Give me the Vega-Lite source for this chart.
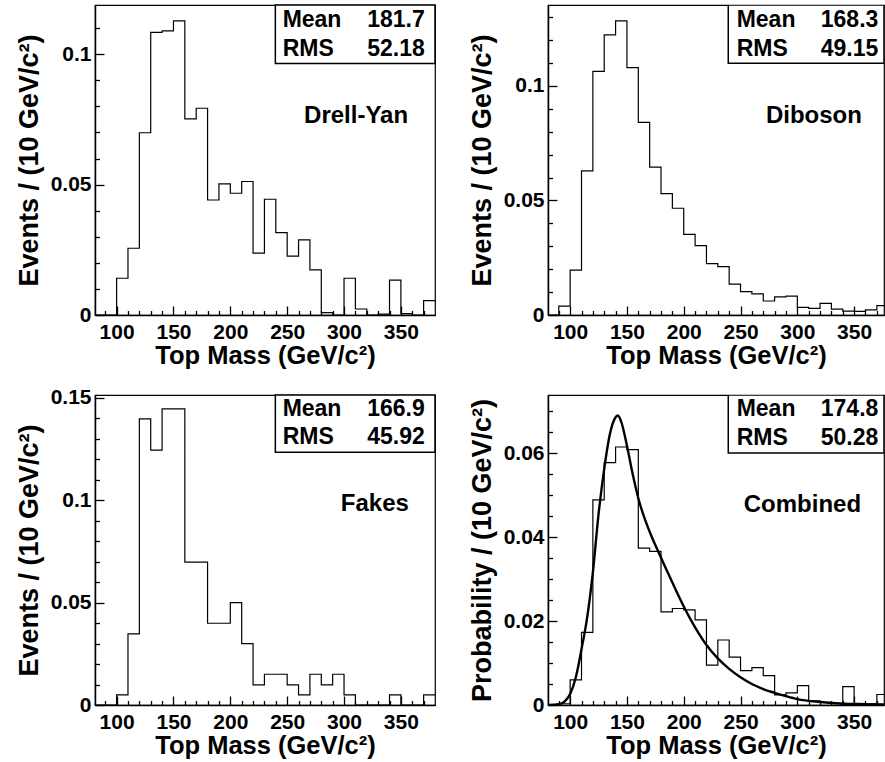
{
  "$schema": "https://vega.github.io/schema/vega-lite/v6.json",
  "background": "white",
  "padding": {"left": 14, "top": 3, "right": 0, "bottom": 0},
  "bounds": "flush",
  "columns": 2,
  "spacing": {"row": 80, "column": 113},
  "config": {
    "view": {"stroke": "black", "strokeWidth": 1.2},
    "font": "Liberation Sans",
    "axis": {
      "labelFont": "Liberation Sans", "labelFontWeight": "bold", "labelFontSize": 21, "labelColor": "black",
      "titleFont": "Liberation Sans", "titleFontWeight": "bold", "titleColor": "black",
      "grid": false, "domainColor": "black", "domainWidth": 1.5, "tickColor": "black", "tickWidth": 1.3,
      "labelOverlap": false, "labelFlush": false
    },
    "axisX": {"titleFontSize": 25.5},
    "axisY": {"titleFontSize": 27},
    "text": {"font": "Liberation Sans", "fontWeight": "bold", "fontSize": 23, "color": "black"}
  },
  "datasets": {
    "drellyan": [
      {"m": 80, "v": 0}, {"m": 90, "v": 0}, {"m": 100, "v": 0.0141}, {"m": 110, "v": 0.0256},
      {"m": 120, "v": 0.0699}, {"m": 130, "v": 0.1084}, {"m": 140, "v": 0.1090}, {"m": 150, "v": 0.1128},
      {"m": 160, "v": 0.0752}, {"m": 170, "v": 0.0793}, {"m": 180, "v": 0.0441}, {"m": 190, "v": 0.0503},
      {"m": 200, "v": 0.0467}, {"m": 210, "v": 0.0512}, {"m": 220, "v": 0.0237}, {"m": 230, "v": 0.0444},
      {"m": 240, "v": 0.0316}, {"m": 250, "v": 0.0226}, {"m": 260, "v": 0.0288}, {"m": 270, "v": 0.0173},
      {"m": 280, "v": 0.0009}, {"m": 290, "v": 0}, {"m": 300, "v": 0.0141}, {"m": 310, "v": 0.0023},
      {"m": 320, "v": 0}, {"m": 330, "v": 0.0003}, {"m": 340, "v": 0.0134}, {"m": 350, "v": 0.0005},
      {"m": 360, "v": 0}, {"m": 370, "v": 0.0055}, {"m": 380, "v": 0.0055}
    ],
    "diboson": [
      {"m": 80, "v": 0}, {"m": 90, "v": 0.0039}, {"m": 100, "v": 0.0196}, {"m": 110, "v": 0.0629},
      {"m": 120, "v": 0.1063}, {"m": 130, "v": 0.1223}, {"m": 140, "v": 0.1284}, {"m": 150, "v": 0.1080},
      {"m": 160, "v": 0.0841}, {"m": 170, "v": 0.0645}, {"m": 180, "v": 0.0530}, {"m": 190, "v": 0.0466},
      {"m": 200, "v": 0.0352}, {"m": 210, "v": 0.0303}, {"m": 220, "v": 0.0224}, {"m": 230, "v": 0.0211},
      {"m": 240, "v": 0.0135}, {"m": 250, "v": 0.0102}, {"m": 260, "v": 0.0092}, {"m": 270, "v": 0.0061},
      {"m": 280, "v": 0.0079}, {"m": 290, "v": 0.0082}, {"m": 300, "v": 0.0033}, {"m": 310, "v": 0.0029},
      {"m": 320, "v": 0.0051}, {"m": 330, "v": 0.0026}, {"m": 340, "v": 0.0017}, {"m": 350, "v": 0.0016},
      {"m": 360, "v": 0.0022}, {"m": 370, "v": 0.0041}, {"m": 380, "v": 0.0041}
    ],
    "fakes": [
      {"m": 80, "v": 0}, {"m": 90, "v": 0}, {"m": 100, "v": 0.0049}, {"m": 110, "v": 0.0347},
      {"m": 120, "v": 0.1396}, {"m": 130, "v": 0.1244}, {"m": 140, "v": 0.1445}, {"m": 150, "v": 0.1445},
      {"m": 160, "v": 0.0697}, {"m": 170, "v": 0.0697}, {"m": 180, "v": 0.0399}, {"m": 190, "v": 0.0399},
      {"m": 200, "v": 0.0500}, {"m": 210, "v": 0.0300}, {"m": 220, "v": 0.0098}, {"m": 230, "v": 0.0150},
      {"m": 240, "v": 0.0150}, {"m": 250, "v": 0.0098}, {"m": 260, "v": 0.0049}, {"m": 270, "v": 0.0150},
      {"m": 280, "v": 0.0098}, {"m": 290, "v": 0.0150}, {"m": 300, "v": 0.0049}, {"m": 310, "v": 0},
      {"m": 320, "v": 0}, {"m": 330, "v": 0}, {"m": 340, "v": 0.0049}, {"m": 350, "v": 0},
      {"m": 360, "v": 0}, {"m": 370, "v": 0.0049}, {"m": 380, "v": 0.0049}
    ],
    "combined": [
      {"m": 80, "v": 0}, {"m": 90, "v": 0.0003}, {"m": 100, "v": 0.0060}, {"m": 110, "v": 0.0173},
      {"m": 120, "v": 0.0489}, {"m": 130, "v": 0.0578}, {"m": 140, "v": 0.0615}, {"m": 150, "v": 0.0609},
      {"m": 160, "v": 0.0374}, {"m": 170, "v": 0.0366}, {"m": 180, "v": 0.0222}, {"m": 190, "v": 0.0230},
      {"m": 200, "v": 0.0227}, {"m": 210, "v": 0.0203}, {"m": 220, "v": 0.0095}, {"m": 230, "v": 0.0155},
      {"m": 240, "v": 0.0114}, {"m": 250, "v": 0.0082}, {"m": 260, "v": 0.0089}, {"m": 270, "v": 0.0070},
      {"m": 280, "v": 0.0024}, {"m": 290, "v": 0.0029}, {"m": 300, "v": 0.0046}, {"m": 310, "v": 0.0010},
      {"m": 320, "v": 0.0006}, {"m": 330, "v": 0.0004}, {"m": 340, "v": 0.0044}, {"m": 350, "v": 0.0002},
      {"m": 360, "v": 0.0002}, {"m": 370, "v": 0.0025}, {"m": 380, "v": 0.0025}
    ],
    "fit": [
      {"m": 81, "p": 0}, {"m": 90, "p": 0.0002}, {"m": 95, "p": 0.0008}, {"m": 100, "p": 0.0026},
      {"m": 105, "p": 0.0066}, {"m": 110, "p": 0.0133}, {"m": 115, "p": 0.0209}, {"m": 120, "p": 0.0316},
      {"m": 125, "p": 0.0455}, {"m": 130, "p": 0.0563}, {"m": 135, "p": 0.0646}, {"m": 140, "p": 0.0686},
      {"m": 142, "p": 0.0690}, {"m": 145, "p": 0.0675}, {"m": 150, "p": 0.0618}, {"m": 155, "p": 0.0551},
      {"m": 160, "p": 0.0493}, {"m": 165, "p": 0.0449}, {"m": 170, "p": 0.0413}, {"m": 180, "p": 0.0351},
      {"m": 190, "p": 0.0292}, {"m": 200, "p": 0.0235}, {"m": 210, "p": 0.0185}, {"m": 220, "p": 0.0143},
      {"m": 230, "p": 0.0111}, {"m": 240, "p": 0.0086}, {"m": 250, "p": 0.0066}, {"m": 260, "p": 0.0050},
      {"m": 270, "p": 0.0038}, {"m": 280, "p": 0.0029}, {"m": 290, "p": 0.0021}, {"m": 300, "p": 0.0014},
      {"m": 320, "p": 0.0007}, {"m": 340, "p": 0.0003}, {"m": 360, "p": 0.0002}, {"m": 380, "p": 0.0001}
    ],
    "one": [{}]
  },
  "concat": [
    {
      "width": 340, "height": 310,
      "resolve": {"axis": {"x": "independent", "y": "independent"}},
      "layer": [
        {
          "data": {"name": "drellyan"},
          "mark": {"type": "line", "interpolate": "step-after", "color": "black", "strokeWidth": 1.2, "clip": true},
          "encoding": {
            "x": {"field": "m", "type": "quantitative", "scale": {"domain": [81, 380], "nice": false, "zero": false},
              "axis": {"orient": "bottom", "title": "Top Mass (GeV/c²)", "values": [100,150,200,250,300,350], "format": "d", "tickSize": -9, "labelPadding": 15, "titlePadding": 1}},
            "y": {"field": "v", "type": "quantitative", "scale": {"domain": [0, 0.1189], "nice": false},
              "axis": {"orient": "left", "title": "Events / (10 GeV/c²)", "values": [0, 0.05, 0.1], "format": "~g", "tickSize": -9, "labelPadding": 13, "titlePadding": 7}}
          }
        },
        {
          "data": {"name": "one"},
          "mark": {"type": "rect", "fill": "white", "stroke": "black", "strokeWidth": 1.5},
          "encoding": {
            "x": {"datum": 239.6, "type": "quantitative", "axis": {"orient": "bottom", "values": [90,110,120,130,140,160,170,180,190,210,220,230,240,260,270,280,290,310,320,330,340,360,370], "labels": false, "title": null, "domain": false, "tickSize": -4.5}},
            "x2": {"datum": 380},
            "y": {"datum": 0.0965, "type": "quantitative", "axis": {"orient": "left", "values": [0.01,0.02,0.03,0.04,0.06,0.07,0.08,0.09,0.11], "labels": false, "title": null, "domain": false, "tickSize": -4.5}},
            "y2": {"datum": 0.1189}}
        },
        {"data": {"name": "one"}, "mark": {"type": "text", "align": "left", "baseline": "alphabetic"},
          "encoding": {"x": {"datum": 246, "type": "quantitative", "axis": null}, "y": {"datum": 0.1104, "type": "quantitative", "axis": null}, "text": {"value": "Mean"}}},
        {"data": {"name": "one"}, "mark": {"type": "text", "align": "right", "baseline": "alphabetic"},
          "encoding": {"x": {"datum": 371, "type": "quantitative", "axis": null}, "y": {"datum": 0.1104, "type": "quantitative", "axis": null}, "text": {"value": "181.7"}}},
        {"data": {"name": "one"}, "mark": {"type": "text", "align": "left", "baseline": "alphabetic"},
          "encoding": {"x": {"datum": 246, "type": "quantitative", "axis": null}, "y": {"datum": 0.0995, "type": "quantitative", "axis": null}, "text": {"value": "RMS"}}},
        {"data": {"name": "one"}, "mark": {"type": "text", "align": "right", "baseline": "alphabetic"},
          "encoding": {"x": {"datum": 371, "type": "quantitative", "axis": null}, "y": {"datum": 0.0995, "type": "quantitative", "axis": null}, "text": {"value": "52.18"}}},
        {"data": {"name": "one"}, "mark": {"type": "text", "align": "center", "baseline": "alphabetic", "fontSize": 24},
          "encoding": {"x": {"datum": 310.6, "type": "quantitative", "axis": null}, "y": {"datum": 0.0735, "type": "quantitative", "axis": null}, "text": {"value": "Drell-Yan"}}}
      ]
    },
    {
      "width": 336, "height": 310,
      "resolve": {"axis": {"x": "independent", "y": "independent"}},
      "layer": [
        {
          "data": {"name": "diboson"},
          "mark": {"type": "line", "interpolate": "step-after", "color": "black", "strokeWidth": 1.2, "clip": true},
          "encoding": {
            "x": {"field": "m", "type": "quantitative", "scale": {"domain": [80.5, 376.3], "nice": false, "zero": false},
              "axis": {"orient": "bottom", "title": "Top Mass (GeV/c²)", "values": [100,150,200,250,300,350], "format": "d", "tickSize": -9, "labelPadding": 15, "titlePadding": 1}},
            "y": {"field": "v", "type": "quantitative", "scale": {"domain": [0, 0.1353], "nice": false},
              "axis": {"orient": "left", "title": "Events / (10 GeV/c²)", "values": [0, 0.05, 0.1], "format": "~g", "tickSize": -9, "labelPadding": 13, "titlePadding": 7}}
          }
        },
        {
          "data": {"name": "one"},
          "mark": {"type": "rect", "fill": "white", "stroke": "black", "strokeWidth": 1.5, "clip": true},
          "encoding": {
            "x": {"datum": 239.2, "type": "quantitative", "axis": {"orient": "bottom", "values": [90,110,120,130,140,160,170,180,190,210,220,230,240,260,270,280,290,310,320,330,340,360,370], "labels": false, "title": null, "domain": false, "tickSize": -4.5}},
            "x2": {"datum": 376.3},
            "y": {"datum": 0.1099, "type": "quantitative", "axis": {"orient": "left", "values": [0.01,0.02,0.03,0.04,0.06,0.07,0.08,0.09,0.11,0.12,0.13], "labels": false, "title": null, "domain": false, "tickSize": -4.5}},
            "y2": {"datum": 0.1353}}
        },
        {"data": {"name": "one"}, "mark": {"type": "text", "align": "left", "baseline": "alphabetic"},
          "encoding": {"x": {"datum": 246.6, "type": "quantitative", "axis": null}, "y": {"datum": 0.1256, "type": "quantitative", "axis": null}, "text": {"value": "Mean"}}},
        {"data": {"name": "one"}, "mark": {"type": "text", "align": "right", "baseline": "alphabetic"},
          "encoding": {"x": {"datum": 371.3, "type": "quantitative", "axis": null}, "y": {"datum": 0.1256, "type": "quantitative", "axis": null}, "text": {"value": "168.3"}}},
        {"data": {"name": "one"}, "mark": {"type": "text", "align": "left", "baseline": "alphabetic"},
          "encoding": {"x": {"datum": 246.6, "type": "quantitative", "axis": null}, "y": {"datum": 0.1132, "type": "quantitative", "axis": null}, "text": {"value": "RMS"}}},
        {"data": {"name": "one"}, "mark": {"type": "text", "align": "right", "baseline": "alphabetic"},
          "encoding": {"x": {"datum": 371.3, "type": "quantitative", "axis": null}, "y": {"datum": 0.1132, "type": "quantitative", "axis": null}, "text": {"value": "49.15"}}},
        {"data": {"name": "one"}, "mark": {"type": "text", "align": "center", "baseline": "alphabetic", "fontSize": 24},
          "encoding": {"x": {"datum": 314.6, "type": "quantitative", "axis": null}, "y": {"datum": 0.0837, "type": "quantitative", "axis": null}, "text": {"value": "Diboson"}}}
      ]
    },
    {
      "width": 340, "height": 310,
      "resolve": {"axis": {"x": "independent", "y": "independent"}},
      "layer": [
        {
          "data": {"name": "fakes"},
          "mark": {"type": "line", "interpolate": "step-after", "color": "black", "strokeWidth": 1.2, "clip": true},
          "encoding": {
            "x": {"field": "m", "type": "quantitative", "scale": {"domain": [81, 380], "nice": false, "zero": false},
              "axis": {"orient": "bottom", "title": "Top Mass (GeV/c²)", "values": [100,150,200,250,300,350], "format": "d", "tickSize": -9, "labelPadding": 15, "titlePadding": 1}},
            "y": {"field": "v", "type": "quantitative", "scale": {"domain": [0, 0.1513], "nice": false},
              "axis": {"orient": "left", "title": "Events / (10 GeV/c²)", "values": [0, 0.05, 0.1, 0.15], "format": "~g", "tickSize": -9, "labelPadding": 13, "titlePadding": 7}}
          }
        },
        {
          "data": {"name": "one"},
          "mark": {"type": "rect", "fill": "white", "stroke": "black", "strokeWidth": 1.5},
          "encoding": {
            "x": {"datum": 239.6, "type": "quantitative", "axis": {"orient": "bottom", "values": [90,110,120,130,140,160,170,180,190,210,220,230,240,260,270,280,290,310,320,330,340,360,370], "labels": false, "title": null, "domain": false, "tickSize": -4.5}},
            "x2": {"datum": 380},
            "y": {"datum": 0.1233, "type": "quantitative", "axis": {"orient": "left", "values": [0.01,0.02,0.03,0.04,0.06,0.07,0.08,0.09,0.11,0.12,0.13,0.14], "labels": false, "title": null, "domain": false, "tickSize": -4.5}},
            "y2": {"datum": 0.1513}}
        },
        {"data": {"name": "one"}, "mark": {"type": "text", "align": "left", "baseline": "alphabetic"},
          "encoding": {"x": {"datum": 246, "type": "quantitative", "axis": null}, "y": {"datum": 0.1412, "type": "quantitative", "axis": null}, "text": {"value": "Mean"}}},
        {"data": {"name": "one"}, "mark": {"type": "text", "align": "right", "baseline": "alphabetic"},
          "encoding": {"x": {"datum": 371, "type": "quantitative", "axis": null}, "y": {"datum": 0.1412, "type": "quantitative", "axis": null}, "text": {"value": "166.9"}}},
        {"data": {"name": "one"}, "mark": {"type": "text", "align": "left", "baseline": "alphabetic"},
          "encoding": {"x": {"datum": 246, "type": "quantitative", "axis": null}, "y": {"datum": 0.1272, "type": "quantitative", "axis": null}, "text": {"value": "RMS"}}},
        {"data": {"name": "one"}, "mark": {"type": "text", "align": "right", "baseline": "alphabetic"},
          "encoding": {"x": {"datum": 371, "type": "quantitative", "axis": null}, "y": {"datum": 0.1272, "type": "quantitative", "axis": null}, "text": {"value": "45.92"}}},
        {"data": {"name": "one"}, "mark": {"type": "text", "align": "center", "baseline": "alphabetic", "fontSize": 24},
          "encoding": {"x": {"datum": 327.1, "type": "quantitative", "axis": null}, "y": {"datum": 0.0947, "type": "quantitative", "axis": null}, "text": {"value": "Fakes"}}}
      ]
    },
    {
      "width": 336, "height": 310,
      "resolve": {"axis": {"x": "independent", "y": "independent"}},
      "layer": [
        {
          "data": {"name": "combined"},
          "mark": {"type": "line", "interpolate": "step-after", "color": "black", "strokeWidth": 1.2, "clip": true},
          "encoding": {
            "x": {"field": "m", "type": "quantitative", "scale": {"domain": [80.5, 376.3], "nice": false, "zero": false},
              "axis": {"orient": "bottom", "title": "Top Mass (GeV/c²)", "values": [100,150,200,250,300,350], "format": "d", "tickSize": -9, "labelPadding": 15, "titlePadding": 1}},
            "y": {"field": "v", "type": "quantitative", "scale": {"domain": [0, 0.0739], "nice": false},
              "axis": {"orient": "left", "title": "Probability / (10 GeV/c²)", "values": [0, 0.02, 0.04, 0.06], "format": "~g", "tickSize": -9, "labelPadding": 13, "titlePadding": 7}}
          }
        },
        {
          "data": {"name": "fit"},
          "mark": {"type": "line", "interpolate": "monotone", "color": "black", "strokeWidth": 2.4, "clip": true},
          "encoding": {"x": {"field": "m", "type": "quantitative", "axis": null}, "y": {"field": "p", "type": "quantitative", "axis": null}}
        },
        {
          "data": {"name": "one"},
          "mark": {"type": "rect", "fill": "white", "stroke": "black", "strokeWidth": 1.5, "clip": true},
          "encoding": {
            "x": {"datum": 239.2, "type": "quantitative", "axis": {"orient": "bottom", "values": [90,110,120,130,140,160,170,180,190,210,220,230,240,260,270,280,290,310,320,330,340,360,370], "labels": false, "title": null, "domain": false, "tickSize": -4.5}},
            "x2": {"datum": 376.3},
            "y": {"datum": 0.0601, "type": "quantitative", "axis": {"orient": "left", "values": [0.005,0.01,0.015,0.025,0.03,0.035,0.045,0.05,0.055,0.065,0.07], "labels": false, "title": null, "domain": false, "tickSize": -4.5}},
            "y2": {"datum": 0.0739}}
        },
        {"data": {"name": "one"}, "mark": {"type": "text", "align": "left", "baseline": "alphabetic"},
          "encoding": {"x": {"datum": 246.6, "type": "quantitative", "axis": null}, "y": {"datum": 0.0688, "type": "quantitative", "axis": null}, "text": {"value": "Mean"}}},
        {"data": {"name": "one"}, "mark": {"type": "text", "align": "right", "baseline": "alphabetic"},
          "encoding": {"x": {"datum": 371.3, "type": "quantitative", "axis": null}, "y": {"datum": 0.0688, "type": "quantitative", "axis": null}, "text": {"value": "174.8"}}},
        {"data": {"name": "one"}, "mark": {"type": "text", "align": "left", "baseline": "alphabetic"},
          "encoding": {"x": {"datum": 246.6, "type": "quantitative", "axis": null}, "y": {"datum": 0.0620, "type": "quantitative", "axis": null}, "text": {"value": "RMS"}}},
        {"data": {"name": "one"}, "mark": {"type": "text", "align": "right", "baseline": "alphabetic"},
          "encoding": {"x": {"datum": 371.3, "type": "quantitative", "axis": null}, "y": {"datum": 0.0620, "type": "quantitative", "axis": null}, "text": {"value": "50.28"}}},
        {"data": {"name": "one"}, "mark": {"type": "text", "align": "center", "baseline": "alphabetic", "fontSize": 24},
          "encoding": {"x": {"datum": 304.5, "type": "quantitative", "axis": null}, "y": {"datum": 0.0461, "type": "quantitative", "axis": null}, "text": {"value": "Combined"}}}
      ]
    }
  ]
}
